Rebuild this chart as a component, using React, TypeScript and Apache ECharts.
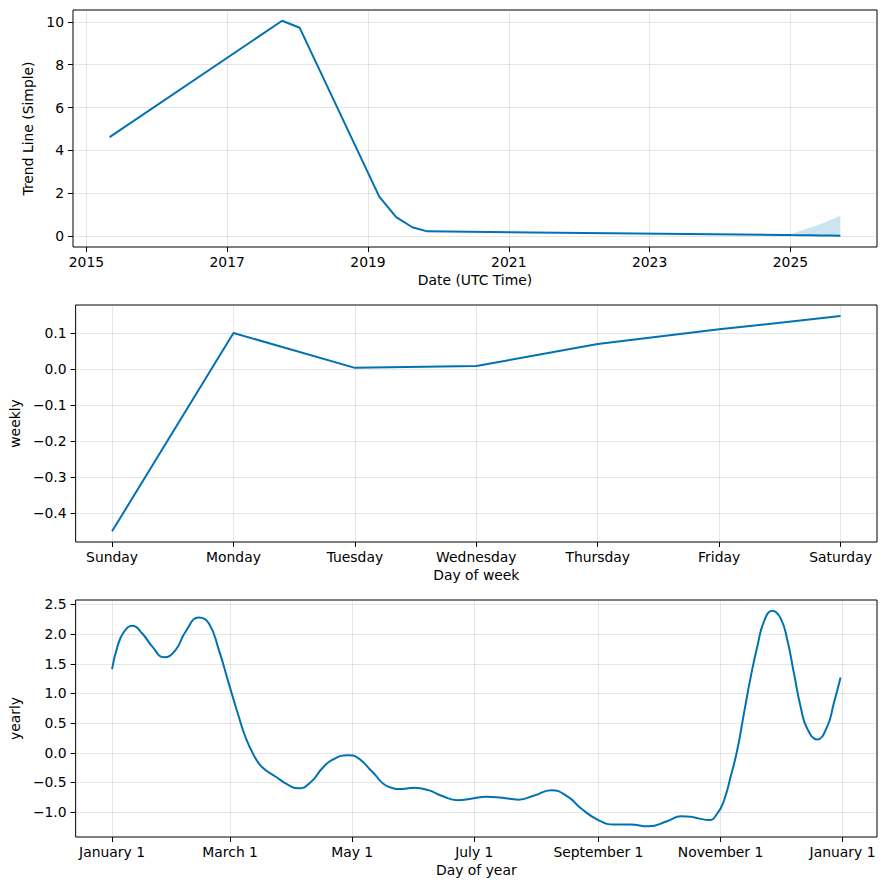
import React, { useEffect, useRef } from "react";
import * as echarts from "echarts";

// ---- Trend (decimal years) ----
const trendYears = [2015.33, 2017.78, 2018.03, 2019.16, 2019.4, 2019.63, 2019.84, 2024.9, 2025.0, 2025.14, 2025.28, 2025.43, 2025.57, 2025.71];
const trendValues = [4.62, 10.05, 9.72, 1.85, 0.89, 0.42, 0.23, 0.06, 0.055, 0.05, 0.045, 0.04, 0.035, 0.03];
const trendLower = [4.61, 10.04, 9.71, 1.84, 0.88, 0.41, 0.22, 0.05, 0.04, 0.03, 0.02, 0.01, 0.0, -0.01];
const trendUpper = [4.63, 10.06, 9.73, 1.86, 0.9, 0.43, 0.245, 0.08, 0.1, 0.25, 0.4, 0.57, 0.76, 0.96];
const trendTickYears = [2015, 2017, 2019, 2021, 2023, 2025];
const trendYTicks = [0, 2, 4, 6, 8, 10];

// ---- Weekly ----
const weekDays = ["Sunday", "Monday", "Tuesday", "Wednesday", "Thursday", "Friday", "Saturday"];
const weeklyValues = [-0.45, 0.101, 0.004, 0.009, 0.07, 0.111, 0.148];
const weeklyYTicks = [-0.4, -0.3, -0.2, -0.1, 0.0, 0.1];

// ---- Yearly (day of year) ----
const yearTickDays = [0, 59, 120, 181, 243, 304, 365];
const yearTickLabels = ["January 1", "March 1", "May 1", "July 1", "September 1", "November 1", "January 1"];
const yearlyDays = [0, 2.7, 6, 10.2, 15.1, 20.1, 26, 31.7, 36.7, 43.4, 48.4, 53.4, 58.3, 63.3, 66.6, 70.8, 74.9, 81.6, 88.2, 93.2, 99.5, 104.8, 110, 117.8, 123, 130, 138, 145, 151, 158, 165, 172.6, 180, 187, 195, 203, 211, 219.4, 227.7, 234.4, 242.7, 251, 259, 268, 277.6, 284.2, 289.2, 293.5, 298.3, 302.5, 305.8, 309.1, 312.4, 315.7, 319.1, 322.4, 325.7, 329.9, 334, 337.4, 340.7, 344, 347.3, 352.3, 357.3, 360.6, 364];
const yearlyValues = [1.41, 1.79, 2.04, 2.14, 2.01, 1.79, 1.61, 1.73, 2.04, 2.28, 2.18, 1.73, 1.17, 0.61, 0.27, -0.04, -0.24, -0.4, -0.545, -0.6, -0.49, -0.27, -0.12, -0.04, -0.09, -0.32, -0.57, -0.61, -0.59, -0.63, -0.73, -0.8, -0.77, -0.74, -0.76, -0.79, -0.72, -0.63, -0.74, -0.94, -1.13, -1.21, -1.21, -1.24, -1.15, -1.07, -1.08, -1.11, -1.135, -1.02, -0.8, -0.4, 0.05, 0.66, 1.28, 1.79, 2.21, 2.395, 2.27, 1.9, 1.34, 0.78, 0.41, 0.225, 0.44, 0.83, 1.27];
const yearlyYTicks = [-1.0, -0.5, 0.0, 0.5, 1.0, 1.5, 2.0, 2.5];

const LINE = "#0072B2";
const FONT = "DejaVu Sans";
const FS = 13.9;
const GRID = "rgba(128,128,128,0.2)";

const minus = (s: string) => s.replace("-", "\u2212");

function xAxisBase(gridIndex: number, min: number, max: number, ticks: number[], fmt: (v: number) => string, name: string) {
  return {
    type: "value",
    gridIndex,
    min,
    max,
    name,
    nameLocation: "middle",
    nameGap: 26,
    nameTextStyle: { color: "#000", fontFamily: FONT, fontSize: FS },
    axisLine: { show: false, onZero: false },
    axisTick: { show: true, length: 5, customValues: ticks, lineStyle: { color: "#000", width: 1 } },
    axisLabel: { customValues: ticks, formatter: fmt, color: "#000", fontFamily: FONT, fontSize: FS, margin: 8 },
    splitLine: { show: true, lineStyle: { color: GRID, width: 1 } },
  };
}

function yAxisBase(gridIndex: number, min: number, max: number, ticks: number[], fmt: (v: number) => string, name: string, gap: number) {
  return {
    type: "value",
    gridIndex,
    min,
    max,
    name,
    nameLocation: "middle",
    nameGap: gap,
    nameTextStyle: { color: "#000", fontFamily: FONT, fontSize: FS },
    axisLine: { show: false, onZero: false },
    axisTick: { show: true, length: 5, customValues: ticks, lineStyle: { color: "#000", width: 1 } },
    axisLabel: { customValues: ticks, formatter: fmt, color: "#000", fontFamily: FONT, fontSize: FS, margin: 9 },
    splitLine: { show: true, lineStyle: { color: GRID, width: 1 } },
  };
}

export default function App() {
  const ref = useRef<HTMLDivElement>(null);
  useEffect(() => {
    document.body.style.margin = "0";
    if (!ref.current) return;
    const chart = echarts.init(ref.current, null, { renderer: "svg" });
    const gridBox = { left: 73, width: 804, height: 237, show: true, borderColor: "#000", borderWidth: 1, backgroundColor: "transparent" };
    const option = {
      animation: false,
      backgroundColor: "#fff",
      grid: [
        { ...gridBox, top: 10 },
        { ...gridBox, top: 305 },
        { ...gridBox, top: 600 },
      ],
      xAxis: [
        xAxisBase(0, 2014.81, 2026.23, trendTickYears, (v: number) => String(Math.round(v)), "Date (UTC Time)"),
        xAxisBase(1, -0.3, 6.3, [0, 1, 2, 3, 4, 5, 6], (v: number) => weekDays[Math.round(v)] ?? "", "Day of week"),
        xAxisBase(2, -18.2, 382.2, yearTickDays, (v: number) => {
          const i = yearTickDays.indexOf(Math.round(v));
          return i >= 0 ? yearTickLabels[i] : "";
        }, "Day of year"),
      ],
      yAxis: [
        yAxisBase(0, -0.5, 10.55, trendYTicks, (v: number) => String(Math.round(v)), "Trend Line (Simple)", 32),
        yAxisBase(1, -0.4797, 0.1786, weeklyYTicks, (v: number) => minus(v.toFixed(1)), "weekly", 50),
        yAxisBase(2, -1.42, 2.575, yearlyYTicks, (v: number) => minus(v.toFixed(1)), "yearly", 50),
      ],
      series: [
        {
          type: "custom",
          xAxisIndex: 0,
          yAxisIndex: 0,
          z: 1,
          silent: true,
          encode: { x: 0, y: 1 },
          data: trendYears.map((x, i) => [x, trendUpper[i], trendLower[i]]),
          renderItem: (params: any, api: any) => {
            if (params.dataIndex !== 0) return null;
            const pts: number[][] = [];
            for (let i = 0; i < trendYears.length; i++) pts.push(api.coord([trendYears[i], trendUpper[i]]));
            for (let i = trendYears.length - 1; i >= 0; i--) pts.push(api.coord([trendYears[i], trendLower[i]]));
            return { type: "polygon", shape: { points: pts }, style: { fill: "rgba(0,114,178,0.2)", stroke: "none" } };
          },
        },
        {
          type: "line",
          xAxisIndex: 0,
          yAxisIndex: 0,
          symbol: "none",
          lineStyle: { color: LINE, width: 2 },
          data: trendYears.map((x, i) => [x, trendValues[i]]),
          z: 3,
        },
        {
          type: "line",
          xAxisIndex: 1,
          yAxisIndex: 1,
          symbol: "none",
          lineStyle: { color: LINE, width: 2 },
          data: weeklyValues.map((v, i) => [i, v]),
        },
        {
          type: "line",
          xAxisIndex: 2,
          yAxisIndex: 2,
          symbol: "none",
          smooth: 0.5,
          lineStyle: { color: LINE, width: 2 },
          data: yearlyDays.map((d, i) => [d, yearlyValues[i]]),
        },
      ],
    };
    chart.setOption(option as any);
    return () => chart.dispose();
  }, []);
  return <div ref={ref} style={{ width: 886, height: 890 }} />;
}
